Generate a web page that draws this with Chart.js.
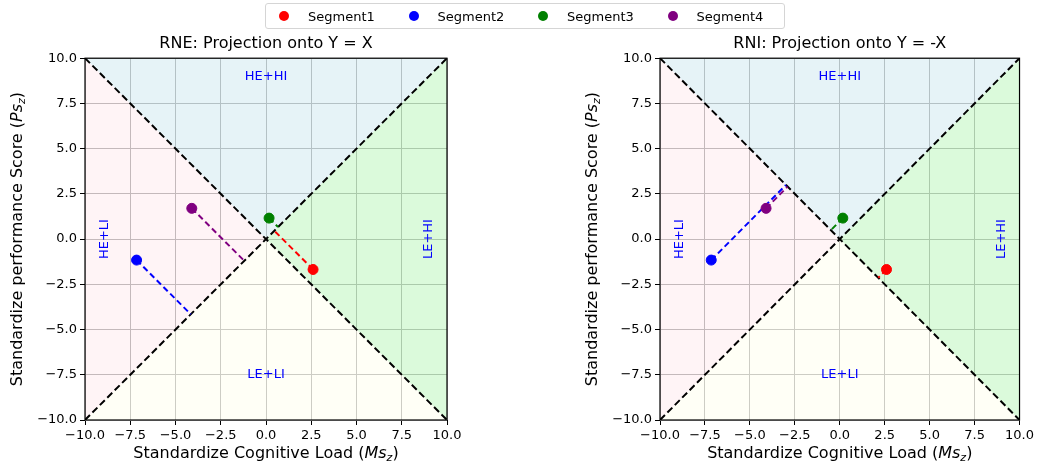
<!DOCTYPE html>
<html>
<head>
<meta charset="utf-8">
<script src="https://cdn.jsdelivr.net/npm/chart.js@4.4.1/dist/chart.umd.min.js"></script>
<style>
  body { margin: 0; background: #fff; width: 1037px; height: 465px; overflow: hidden; position: relative; font-family: "DejaVu Sans", sans-serif; }
  .box { position: absolute; top: 0; height: 465px; }
  #legend { position: absolute; left: 265px; top: 3px; width: 518px; height: 24px; border: 1px solid #d5d5d5; border-radius: 3px; background: rgba(255,255,255,0.8); display: flex; z-index: 2; }
  #legend .item { width: 134px; display: flex; align-items: center; font-size: 13px; color: #000; }
  #legend .dot { width: 10px; height: 10px; border-radius: 50%; margin-left: 13px; margin-right: 19px; }
</style>
</head>
<body>
<div id="legend"></div>
<div class="box" style="left:0;width:518px"><canvas id="rne"></canvas></div>
<div class="box" style="left:518px;width:519px"><canvas id="rni"></canvas></div>
<script>
// segments and their standardized scores
const segments = ['Segment1', 'Segment2', 'Segment3', 'Segment4'];
const segColors = ['red', 'blue', 'green', 'purple'];
const msZ = [2.6, -7.15, 0.17, -4.1];
const psZ = [-1.68, -1.16, 1.16, 1.7];
const tickVals = [-10, -7.5, -5, -2.5, 0, 2.5, 5, 7.5, 10];
const regionNames = ['HE+HI', 'LE+LI', 'HE+LI', 'LE+HI'];
const regionPos = [[0, 9], [0, -7.5], [-8.9, 0], [9, 0]];

// legend
let lg = document.getElementById('legend');
for (let i = 0; i < segments.length; i++) {
  lg.innerHTML += '<div class="item"><span class="dot" style="background:' + segColors[i] + '"></span>' + segments[i] + '</div>';
}

const font = '"DejaVu Sans"';

function drawParts(ctx, parts, x, y, rot) {
  ctx.save();
  ctx.translate(x, y);
  if (rot) ctx.rotate(-Math.PI / 2);
  let total = 0;
  parts.forEach(p => {
    ctx.font = (p.it ? 'italic ' : '') + (p.sub ? 11 : 16) + 'px ' + font;
    p.w = ctx.measureText(p.t).width;
    total += p.w;
  });
  let cx = -total / 2;
  ctx.fillStyle = '#000';
  ctx.textBaseline = 'middle';
  ctx.textAlign = 'left';
  parts.forEach(p => {
    ctx.font = (p.it ? 'italic ' : '') + (p.sub ? 11 : 16) + 'px ' + font;
    ctx.fillText(p.t, cx, p.sub ? 4 : 0);
    cx += p.w;
  });
  ctx.restore();
}

const decor = {
  id: 'decor',
  afterDatasetsDraw(chart) {
    const ctx = chart.ctx, a = chart.chartArea;
    const xs = chart.scales.x, ys = chart.scales.y;
    ctx.save();
    ctx.fillStyle = 'blue';
    ctx.font = '13px ' + font;
    ctx.textAlign = 'center';
    ctx.textBaseline = 'middle';
    for (let i = 0; i < regionNames.length; i++) {
      let px = xs.getPixelForValue(regionPos[i][0]);
      let py = ys.getPixelForValue(regionPos[i][1]);
      ctx.save();
      ctx.translate(px, py);
      if (i >= 2) ctx.rotate(-Math.PI / 2);
      ctx.fillText(regionNames[i], 0, 0);
      ctx.restore();
    }
    ctx.strokeStyle = '#000';
    ctx.lineWidth = 1.2;
    ctx.strokeRect(a.left, a.top, a.right - a.left, a.bottom - a.top);
    ctx.restore();
    drawParts(ctx, [{t: 'Standardize Cognitive Load ('}, {t: 'Ms', it: true}, {t: 'z', it: true, sub: true}, {t: ')'}],
      (a.left + a.right) / 2, 454, false);
    drawParts(ctx, [{t: 'Standardize performance Score ('}, {t: 'Ps', it: true}, {t: 'z', it: true, sub: true}, {t: ')'}],
      a.left - 67, (a.top + a.bottom) / 2, true);
  }
};

function makeChart(id, title, proj, padLeft, padRight) {
  let datasets = [];
  // region fills
  const regions = [
    [[-10, 10], [10, 10], [0, 0]],
    [[-10, -10], [10, -10], [0, 0]],
    [[-10, 10], [-10, -10], [0, 0]],
    [[10, 10], [10, -10], [0, 0]]
  ];
  const fills = ['rgba(173,216,230,0.3)', 'rgba(255,255,224,0.3)', 'rgba(255,192,203,0.18)', 'rgba(144,238,144,0.32)'];
  regions.forEach((r, i) => {
    let pts = r.concat([r[0]]).map(p => ({x: p[0], y: p[1]}));
    datasets.push({ data: pts, fill: 'shape', backgroundColor: fills[i], borderWidth: 0, borderColor: 'rgba(0,0,0,0)', pointRadius: 0, order: 5 });
  });
  // diagonals
  datasets.push({ data: [{x: -10, y: -10}, {x: 10, y: 10}], borderColor: '#000', borderWidth: 2, borderDash: [7, 3.5], pointRadius: 0, fill: false, order: 3 });
  datasets.push({ data: [{x: -10, y: 10}, {x: 10, y: -10}], borderColor: '#000', borderWidth: 2, borderDash: [7, 3.5], pointRadius: 0, fill: false, order: 3 });
  for (let i = 0; i < segments.length; i++) {
    let p = proj(msZ[i], psZ[i]);
    datasets.push({ data: [{x: msZ[i], y: psZ[i]}, {x: p[0], y: p[1]}], borderColor: segColors[i], borderWidth: 2, borderDash: [6, 3.5], pointRadius: 0, fill: false, order: 2 });
    datasets.push({ label: segments[i], data: [{x: msZ[i], y: psZ[i]}], showLine: false, pointRadius: 5, pointBackgroundColor: segColors[i], pointBorderColor: segColors[i], order: 1 });
  }
  const axis = (w, isX) => ({
    type: 'linear', min: -10, max: 10,
    afterBuildTicks: s => { s.ticks = tickVals.map(v => ({value: v})); },
    afterFit: s => { if (isX) s.height = 45; else s.width = 85; },
    ticks: { color: '#000', font: {family: 'DejaVu Sans', size: 13}, padding: 3, maxRotation: 0,
      callback: v => v.toFixed(1).replace('-', '\u2212') },
    grid: { color: '#b8b8b8', lineWidth: 1, tickColor: '#000', tickLength: 5 },
    border: { display: false }
  });
  return new Chart(document.getElementById(id), {
    type: 'line',
    data: { datasets: datasets },
    options: {
      responsive: true, maintainAspectRatio: false, animation: false,
      layout: { padding: { left: padLeft, right: padRight, top: 0, bottom: 0 } },
      plugins: {
        legend: { display: false }, tooltip: { enabled: false },
        title: { display: true, text: title, fullSize: false, color: '#000',
          font: {family: 'DejaVu Sans', size: 16, weight: 'normal'}, padding: {top: 34, bottom: 5} }
      },
      scales: { x: axis(0, true), y: axis(0, false) }
    },
    plugins: [decor]
  });
}

makeChart('rne', 'RNE: Projection onto Y = X', (x, y) => [(x + y) / 2, (x + y) / 2], 0, 71);
makeChart('rni', 'RNI: Projection onto Y = -X', (x, y) => [(x - y) / 2, -(x - y) / 2], 57, 15);
</script>
</body>
</html>
